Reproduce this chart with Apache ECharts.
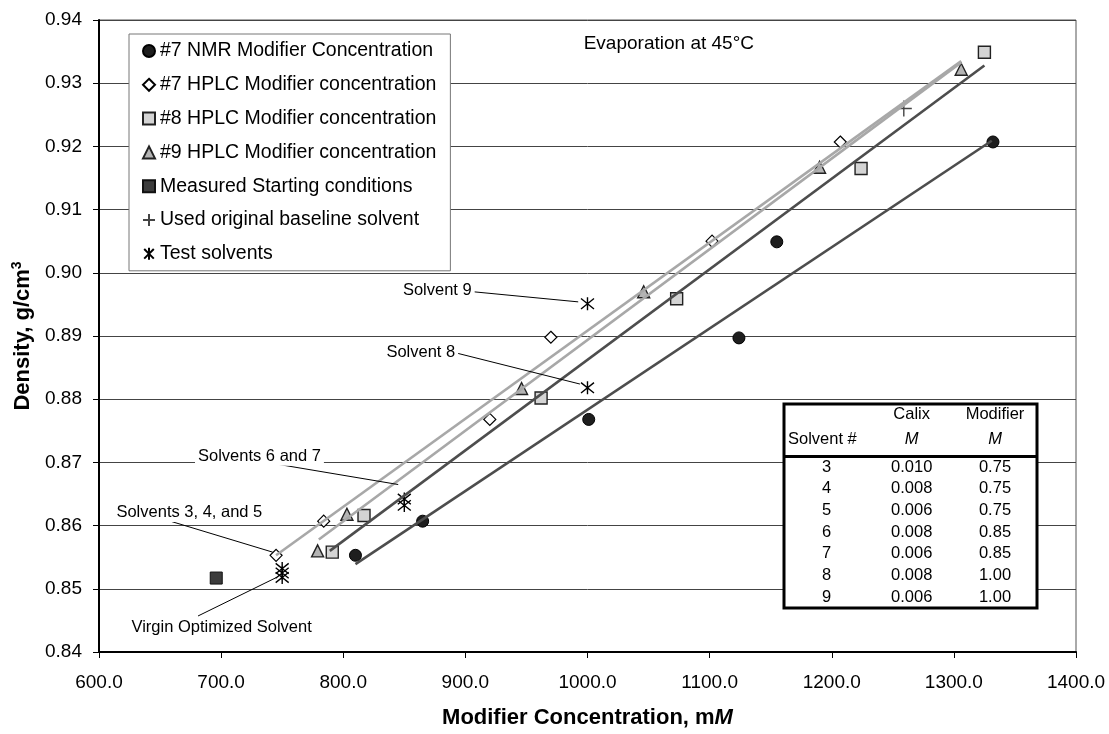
<!DOCTYPE html>
<html><head><meta charset="utf-8">
<script src="https://cdn.jsdelivr.net/npm/echarts@6/dist/echarts.min.js"></script>
<style>html,body{margin:0;padding:0;background:#fff}#c{width:1109px;height:734px}</style>
</head><body><div id="c"></div>
<script>
// ---- data ----
const nmr7 = [[810,0.8553],[865,0.8607],[1001,0.8768],[1124,0.8897],[1155,0.9049],[1332,0.9207]];
const hplc7 = [[745,0.8553],[784,0.8607],[920,0.8768],[970,0.8898],[1102,0.9050],[1207,0.9207]];
const hplc8 = [[791,0.8558],[817,0.8616],[962,0.8802],[1073,0.8959],[1224,0.9165],[1325,0.9349]];
const hplc9 = [[779,0.8560],[803,0.8618],[946,0.8817],[1046,0.8970],[1190,0.9167],[1306,0.9322]];
const startCond = [[696,0.8517]];
const baseline = [[1259,0.9260]];
const testSolvents = [[750,0.8518],[750,0.8525],[750,0.8532],[850,0.8632],[850,0.8642],[1000,0.8818],[1000,0.8951]];
const trendNmr7 = [[810,0.8539],[1331,0.9209]];
const trendHplc7 = [[745,0.8553],[1306,0.9335]];
const trendHplc8 = [[789,0.8560],[1325,0.9328]];
const trendHplc9 = [[780,0.8578],[1306,0.9333]];
const seriesNames = ['#7 NMR Modifier Concentration','#7 HPLC Modifier concentration','#8 HPLC Modifier concentration','#9 HPLC Modifier concentration','Measured Starting conditions','Used original baseline solvent','Test solvents'];
const noteTexts = ['Evaporation at 45°C','Solvent 9','Solvent 8','Solvents 6 and 7','Solvents 3, 4, and 5','Virgin Optimized Solvent'];
const notePoints = [[1067,0.9362],[877.4,0.8971],[863.9,0.8873],[731.8,0.8709],[674.4,0.8620],[700.8,0.8438]];
const leaderLines = [
  [[906.4,0.8970],[992.4,0.8954]],
  [[892.8,0.8873],[993.8,0.8824]],
  [[737.2,0.8700],[845.0,0.8665]],
  [[656.7,0.8608],[742.2,0.8558]],
  [[681.1,0.8457],[745.4,0.8518]]
];
const tableHead1 = ['', 'Calix', 'Modifier'];
const tableHead2 = ['Solvent #', 'M', 'M'];
const tableRows = [['3','0.010','0.75'],['4','0.008','0.75'],['5','0.006','0.75'],['6','0.008','0.85'],['7','0.006','0.85'],['8','0.008','1.00'],['9','0.006','1.00']];
const xMin = 600, xMax = 1400, xStep = 100;
const yMin = 0.84, yMax = 0.94, yStep = 0.01;

// ---- chart ----
const FF = '"Liberation Sans", Arial, sans-serif';
const chart = echarts.init(document.getElementById('c'), null, {renderer:'canvas'});
const star = 'path://M1,1L9,9M9,1L1,9M5,0L5,10';
const plus = 'path://M5,0L5,10M0,5L10,5';
const mk = (name, data, symbol, size, color, border, bw) => ({
  type:'scatter', name, data, symbol, symbolSize:size, z:3,
  itemStyle:{color, borderColor:border, borderWidth:bw, opacity:1}
});
const trend = (data, color) => ({type:'line', data, showSymbol:false, symbol:'none', silent:true, z:4,
  lineStyle:{color, width:2.6}, emphasis:{disabled:true}});
const leaders = leaderLines.map(d => ({type:'line', data:d, showSymbol:false, symbol:'none', silent:true, z:6,
  lineStyle:{color:'#000', width:1}}));
const notes = {
  type:'scatter', name:'notes', symbolSize:1, silent:true, z:7,
  itemStyle:{color:'rgba(0,0,0,0)', opacity:1},
  data: notePoints.map((p,i)=>({value:p, label:{formatter:noteTexts[i], fontSize: i===0?19:16.5,
      backgroundColor: i===0?'transparent':'#fff'}})),
  label:{show:true, position:[0,0], align:'center', verticalAlign:'middle', color:'#000', opacity:1,
    textBorderWidth:0, textBorderColor:'transparent', fontFamily:FF, padding:[1,3]}
};
const tableLeft = 784, tableTop = 404, tableW = 253, tableH = 204;
const colX = [826.7, 911.7, 995];
const tfont = '16.5px ' + FF;
const graphics = [
  {type:'rect', shape:{x:tableLeft, y:tableTop, width:tableW, height:tableH}, style:{fill:'#fff', stroke:'#000', lineWidth:3}, z:100},
  {type:'line', shape:{x1:tableLeft, y1:456.5, x2:tableLeft+tableW, y2:456.5}, style:{stroke:'#000', lineWidth:3}, z:101}
];
tableHead1.forEach((t,i)=>{ if(t) graphics.push({type:'text', z:102, style:{text:t, x:colX[i], y:414, fill:'#000', font:tfont, align:'center', verticalAlign:'middle'}}); });
tableHead2.forEach((t,i)=>{ graphics.push({type:'text', z:102, style:{text:t, x: i===0?788:colX[i], y:439, fill:'#000', font:(i===0?'':'italic ')+tfont, align: i===0?'left':'center', verticalAlign:'middle'}}); });
tableRows.forEach((r,ri)=>{ r.forEach((t,ci)=>{ graphics.push({type:'text', z:102, style:{text:t, x:colX[ci], y:467+ri*21.7, fill:'#000', font:tfont, align:'center', verticalAlign:'middle'}}); }); });

chart.setOption({
  animation:false,
  backgroundColor:'#fff',
  textStyle:{fontFamily:FF},
  grid:{left:99, right:33, top:20, bottom:77, containLabel:false, show:true, borderColor:'#555', borderWidth:1, backgroundColor:'#fff'},
  legend:{
    data:seriesNames, orient:'vertical', left:129, top:34,
    backgroundColor:'#fff', borderColor:'#777', borderWidth:1,
    padding:[6,14,6,13], itemGap:11.8, itemWidth:12, itemHeight:12,
    textStyle:{fontSize:19.5, fontFamily:FF, color:'#000', lineHeight:22}, selectedMode:false
  },
  xAxis:{type:'value', min:xMin, max:xMax, interval:xStep,
    name:'{a|Modifier Concentration, m}{b|M}', nameLocation:'middle', nameGap:55,
    nameTextStyle:{rich:{a:{fontSize:22, fontWeight:'bold', fontFamily:FF, color:'#000'}, b:{fontSize:22, fontWeight:'bold', fontStyle:'italic', fontFamily:FF, color:'#000'}}},
    axisLine:{show:true, lineStyle:{color:'#000', width:2}},
    axisTick:{show:true, inside:false, length:6, lineStyle:{color:'#000', width:1}},
    axisLabel:{margin:21, fontSize:19, color:'#000', fontFamily:FF, formatter:v=>v.toFixed(1)},
    splitLine:{show:false}
  },
  yAxis:{type:'value', min:yMin, max:yMax, interval:yStep,
    name:'{a|Density, g/cm}{b|3}', nameLocation:'middle', nameGap:62, nameRotate:90,
    nameTextStyle:{rich:{a:{fontSize:22, fontWeight:'bold', fontFamily:FF, color:'#000'}, b:{fontSize:14, fontWeight:'bold', fontFamily:FF, color:'#000', verticalAlign:'top', padding:[0,0,12,0]}}},
    axisLine:{show:true, lineStyle:{color:'#000', width:2}},
    axisTick:{show:true, inside:false, length:6, lineStyle:{color:'#000', width:1}},
    axisLabel:{margin:17, fontSize:19, color:'#000', fontFamily:FF, formatter:v=>v.toFixed(2)},
    splitLine:{show:true, lineStyle:{color:'#444', width:1}}
  },
  series:[
    mk(seriesNames[0], nmr7, 'circle', 12, '#1e1e1e', '#000', 1),
    mk(seriesNames[1], hplc7, 'diamond', 12, '#fff', '#000', 1.2),
    mk(seriesNames[2], hplc8, 'rect', 12, '#d4d4d4', '#222', 1.4),
    mk(seriesNames[3], hplc9, 'triangle', 12, '#b4b4b4', '#222', 1.4),
    mk(seriesNames[4], startCond, 'rect', 12, '#3c3c3c', '#111', 1),
    mk(seriesNames[5], baseline, plus, 16, 'rgba(0,0,0,0)', '#444', 1.4),
    mk(seriesNames[6], testSolvents, star, 13, 'rgba(0,0,0,0)', '#000', 1.4),
    trend(trendHplc7, '#a8a8a8'),
    trend(trendHplc9, '#a8a8a8'),
    trend(trendHplc8, '#4d4d4d'),
    trend(trendNmr7, '#4d4d4d'),
    ...leaders,
    notes
  ],
  graphic: graphics
});
</script></body></html>
